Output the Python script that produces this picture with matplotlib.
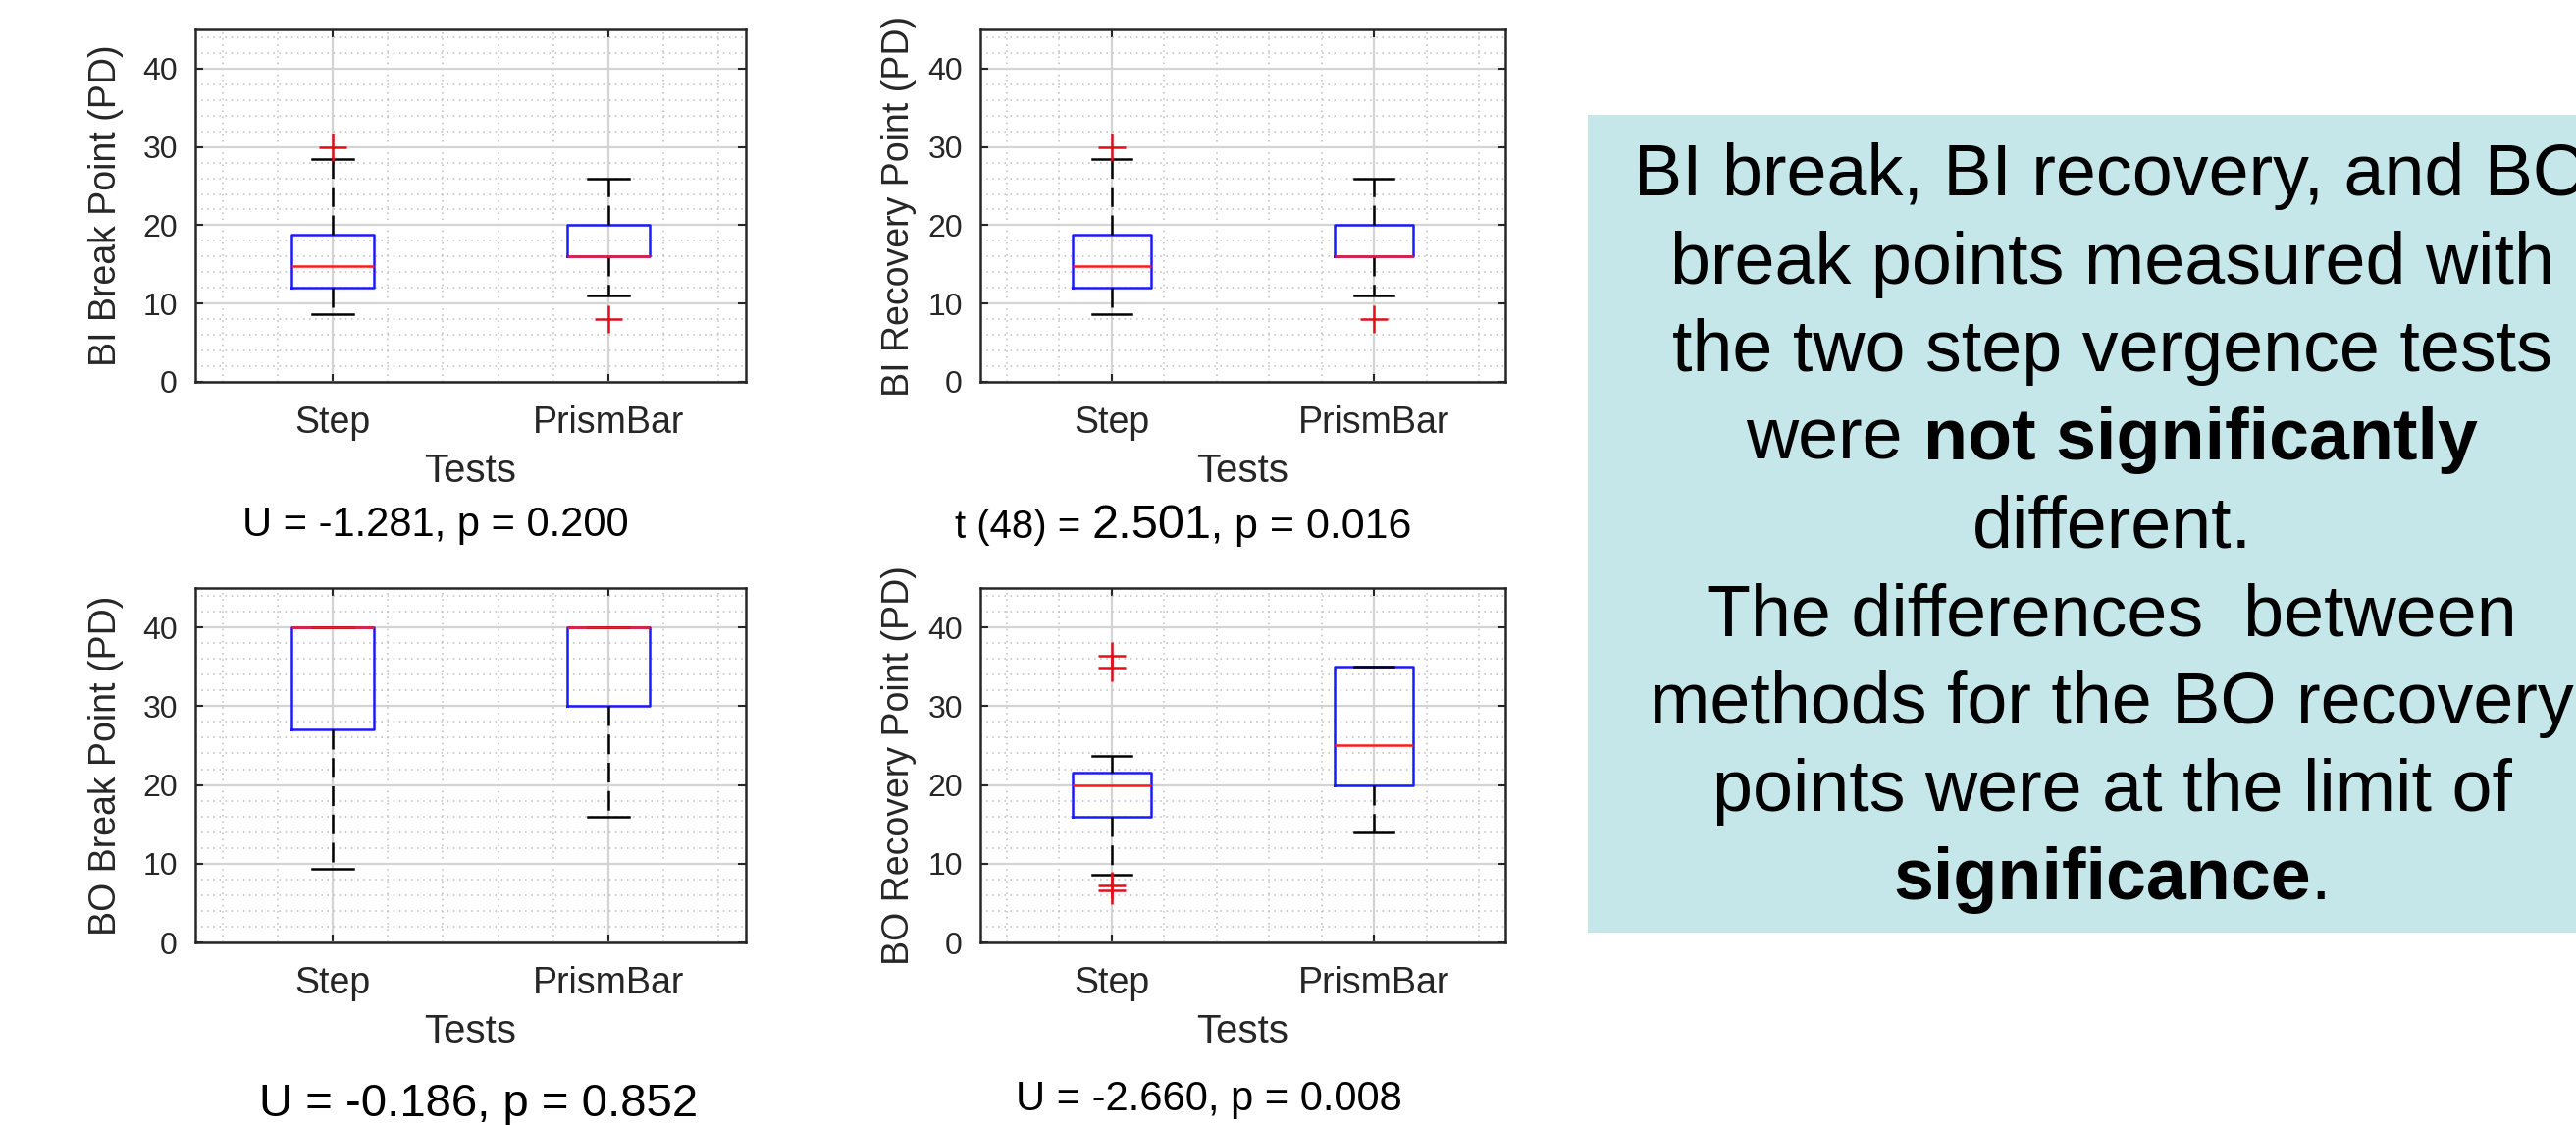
import matplotlib
matplotlib.use('Agg')
import matplotlib.pyplot as plt
from matplotlib.patches import Rectangle
from matplotlib.ticker import MultipleLocator, FixedLocator

plt.rcParams['font.family'] = ['Liberation Sans', 'DejaVu Sans']

W, H, DPI = 2625, 1146, 100

tests = ['Step', 'PrismBar']
ylabels = ['BI Break Point (PD)', 'BI Recovery Point (PD)',
           'BO Break Point (PD)', 'BO Recovery Point (PD)']
yticks = [0, 10, 20, 30, 40]

# [whislo, q1, median, q3, whishi]
bi_break_step = [8.7, 12.0, 14.8, 18.8, 28.4]
bi_break_prism = [11.0, 16.0, 16.0, 20.0, 26.0]
bi_break_fliers = [[30.0], [8.0]]

bi_rec_step = [8.7, 12.0, 14.8, 18.8, 28.4]
bi_rec_prism = [11.0, 16.0, 16.0, 20.0, 26.0]
bi_rec_fliers = [[30.0], [8.0]]

bo_break_step = [9.3, 27.0, 40.0, 40.0, 40.0]
bo_break_prism = [16.0, 30.0, 40.0, 40.0, 40.0]
bo_break_fliers = [[], []]

bo_rec_step = [8.6, 16.0, 20.0, 21.6, 23.7]
bo_rec_prism = [14.0, 20.0, 25.0, 35.0, 35.0]
bo_rec_fliers = [[36.4, 34.9, 7.2, 6.6], []]

panels = [
    (bi_break_step, bi_break_prism, bi_break_fliers),
    (bi_rec_step, bi_rec_prism, bi_rec_fliers),
    (bo_break_step, bo_break_prism, bo_break_fliers),
    (bo_rec_step, bo_rec_prism, bo_rec_fliers),
]

# axes frames in pixels: left, top, right, bottom
frames = [(199, 30, 760, 389), (999, 30, 1534, 389),
          (199, 599, 760, 960), (999, 599, 1534, 960)]
ylabel_edge = [126, 934, 126, 934]

box_lines = [
    'BI break, BI recovery, and BO',
    'break points measured with',
    'the two step vergence tests',
    None,
    'different.',
    'The differences  between',
    'methods for the BO recovery',
    'points were at the limit of',
    None,
]

fig = plt.figure(figsize=(W / DPI, H / DPI), dpi=DPI)
fig.patch.set_facecolor('white')

dark = '#262626'

for i, (s1, s2, fl) in enumerate(panels):
    l, t, r, b = frames[i]
    ax = fig.add_axes([l / W, 1 - b / H, (r - l) / W, (b - t) / H])
    stats = []
    for name, s, f in zip(tests, (s1, s2), fl):
        stats.append(dict(label=name, whislo=s[0], q1=s[1], med=s[2],
                          q3=s[3], whishi=s[4], fliers=f))
    ax.bxp(stats, positions=[1, 2], widths=0.3,
           boxprops=dict(color='#1a1aff', lw=1.8),
           medianprops=dict(color='#ff1a1a', lw=1.8),
           whiskerprops=dict(color='black', lw=1.8, ls=(0, (8, 3.5))),
           capprops=dict(color='black', lw=1.8),
           flierprops=dict(marker='+', markeredgecolor='#e0101a',
                           markersize=20, markeredgewidth=1.8))
    ax.set_xlim(0.5, 2.5)
    ax.set_ylim(0, 45)
    ax.set_xticks([1, 2])
    ax.set_xticklabels(tests, fontsize=27, color=dark)
    ax.set_yticks(yticks)
    ax.set_yticklabels([str(v) for v in yticks], fontsize=23, color=dark)
    ax.yaxis.set_minor_locator(MultipleLocator(2))
    ax.xaxis.set_minor_locator(FixedLocator([0.6, 0.8, 1.2, 1.4, 1.6, 1.8, 2.2, 2.4]))
    ax.tick_params(which='major', direction='in', length=6, width=1.5,
                   top=True, right=True, color=dark)
    ax.tick_params(axis='x', which='major', pad=17)
    ax.tick_params(axis='y', which='major', pad=13)
    ax.tick_params(which='minor', length=0)
    ax.set_axisbelow(True)
    ax.grid(which='major', color='#d4d4d4', lw=1.6, ls='-')
    ax.grid(which='minor', color='#bdbdbd', lw=1.1, ls=(0, (1, 3)))
    for sp in ax.spines.values():
        sp.set_color(dark)
        sp.set_linewidth(1.8)
    ax.set_xlabel('Tests', fontsize=29, color=dark, labelpad=9)
    ax.set_ylabel(ylabels[i], fontsize=27, color=dark)
    ax.yaxis.set_label_coords((ylabel_edge[i] - l) / (r - l), 0.5)

renderer = fig.canvas.get_renderer()


def text_w(s, size, weight):
    a = fig.text(0, 0, s + '|', fontsize=size, fontweight=weight)
    c = fig.text(0, 0, '|', fontsize=size, fontweight=weight)
    w = a.get_window_extent(renderer).width - c.get_window_extent(renderer).width
    a.remove()
    c.remove()
    return w


def put_line(parts, x, y, align='center', zorder=3):
    widths = [text_w(s, size, wt) for s, size, wt in parts]
    x0 = x - sum(widths) / 2 if align == 'center' else x
    for (s, size, wt), w in zip(parts, widths):
        fig.text(x0 / W, 1 - y / H, s, fontsize=size, fontweight=wt,
                 ha='left', va='baseline', color='black', zorder=zorder)
        x0 += w


# test statistics under each panel
put_line([('U = -1.281, p = 0.200', 30, 'normal')], 444, 546)
put_line([('t (48) = ', 29, 'normal'), ('2.501', 35, 'normal'),
          (', p = 0.016', 31, 'normal')], 973, 548, align='left')
put_line([('U = -0.186, p = 0.852', 34, 'normal')], 488, 1137)
put_line([('U = -2.660, p = 0.008', 30, 'normal')], 1232, 1131)

# summary box on the right
fig.patches.append(Rectangle((1618 / W, 1 - 950 / H), 1 - 1618 / W, (950 - 117) / H,
                             transform=fig.transFigure, facecolor='#c6e7ea',
                             edgecolor='none', zorder=1))
for k, line in enumerate(box_lines):
    y = 199 + k * 89.6
    if k == 3:
        parts = [('were ', 53, 'normal'), ('not significantly', 53, 'bold')]
    elif k == 8:
        parts = [('significance', 53, 'bold'), ('.', 53, 'normal')]
    else:
        parts = [(line, 53, 'normal')]
    put_line(parts, 2152, y)

fig.savefig('out.png', dpi=DPI)
